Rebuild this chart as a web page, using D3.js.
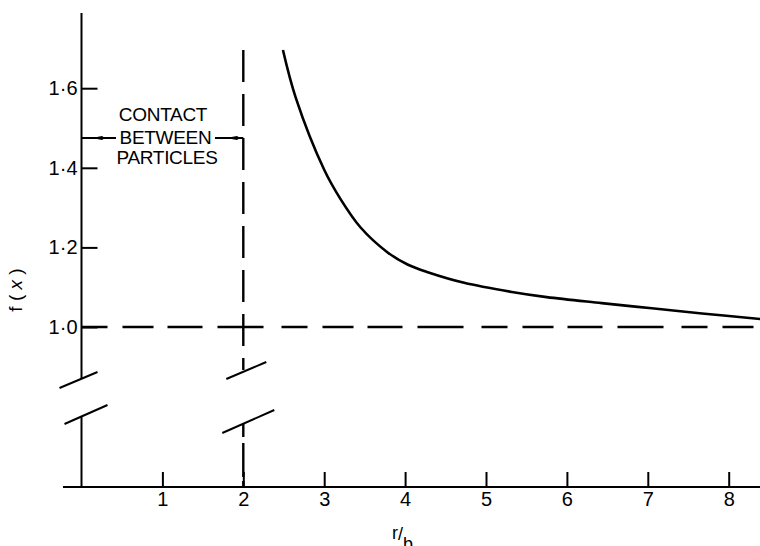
<!DOCTYPE html>
<html>
<head>
<meta charset="utf-8">
<title>f(x) against r/b</title>
<style>
  body { margin: 0; background: #fff; }
  svg { display: block; }
  text { font-family: "Liberation Sans", Arial, sans-serif; fill: #000; }
  .tick text { font-size: 20px; }
  .tick line { stroke: #000; stroke-width: 2px; }
  .axisline { stroke: #000; stroke-width: 2px; fill: none; }
  .curve { fill: none; stroke: #000; stroke-width: 2.6px; }
  .dash { stroke: #000; stroke-width: 2.4px; fill: none; }
  .note { font-size: 19px; text-anchor: middle; letter-spacing: -0.3px; }
</style>
</head>
<body>
<svg width="760" height="546"></svg>
<script src="https://d3js.org/d3.v7.min.js"></script>
<script>
// values
var rb = [2.49, 2.65, 3.00, 3.20, 3.45, 3.78, 4.03, 4.29, 4.73, 5.32, 5.75, 6.43, 7.05, 7.67, 8.39];
var fx = [1.696, 1.575, 1.395, 1.322, 1.250, 1.188, 1.157, 1.137, 1.111, 1.088, 1.075, 1.060, 1.047, 1.034, 1.020];
var xTicks = [1, 2, 3, 4, 5, 6, 7, 8];
var yTicks = [1.0, 1.2, 1.4, 1.6];
var contactAt = 2;       // r/b where particles touch
var noteLines = ["CONTACT", "BETWEEN", "PARTICLES"];

var svg = d3.select("svg"),
    width = +svg.attr("width"),
    height = +svg.attr("height");

var x = d3.scaleLinear().domain([0, 8.5]).range([81.5, 81.5 + 8.5 * 80.9]);
var y = d3.scaleLinear().domain([1, 1.7]).range([327, 327 - 0.7 * 398]);

var baseY = 487;      // x axis sits below the break
var yTop = 13;

// y axis, broken between 1.0 and the base
svg.append("line").attr("class", "axisline")
    .attr("x1", x(0)).attr("x2", x(0)).attr("y1", yTop).attr("y2", 379);
svg.append("line").attr("class", "axisline")
    .attr("x1", x(0)).attr("x2", x(0)).attr("y1", 416).attr("y2", baseY);

var gy = svg.append("g")
    .attr("transform", "translate(" + x(0) + ",0)")
    .call(d3.axisLeft(y).tickValues(yTicks).tickSizeInner(-16).tickSizeOuter(0).tickPadding(4)
      .tickFormat(function(d) { return d3.format(".1f")(d).replace(".", "\u00B7"); }));
gy.select(".domain").remove();

// x axis
svg.append("line").attr("class", "axisline").attr("stroke-width", 2.4)
    .attr("x1", 63).attr("x2", width).attr("y1", baseY).attr("y2", baseY);

var gx = svg.append("g")
    .attr("transform", "translate(0," + baseY + ")")
    .call(d3.axisBottom(x).tickValues(xTicks).tickSizeInner(-15).tickSizeOuter(0).tickPadding(5)
      .tickFormat(d3.format("d")));
gx.select(".domain").remove();

// break marks
function slash(x1, y1, x2, y2) {
  svg.append("line").attr("class", "axisline").attr("stroke-width", 1.8)
      .attr("x1", x1).attr("y1", y1).attr("x2", x2).attr("y2", y2);
}
slash(x(0) - 22, 388, x(0) + 16, 372);
slash(x(0) - 17, 424, x(0) + 26, 405);
slash(x(contactAt) - 17, 379, x(contactAt) + 23, 362);
slash(x(contactAt) - 21, 433, x(contactAt) + 31, 410);

// f = 1 reference
svg.append("line").attr("class", "dash")
    .attr("stroke-dasharray", "26,15,31,14,35,15,46,18")
    .attr("x1", x(0)).attr("x2", width).attr("y1", y(1)).attr("y2", y(1));

// contact line at r/b = 2
svg.append("line").attr("class", "dash")
    .attr("stroke-dasharray", "32,12")
    .attr("x1", x(contactAt)).attr("x2", x(contactAt)).attr("y1", y(1.696)).attr("y2", 370);
svg.append("line").attr("class", "dash")
    .attr("stroke-dasharray", "14,6,34,4,8,0")
    .attr("x1", x(contactAt)).attr("x2", x(contactAt)).attr("y1", 423).attr("y2", baseY);

// curve
var line = d3.line()
    .x(function(d, i) { return x(rb[i]); })
    .y(function(d) { return y(d); })
    .curve(d3.curveCatmullRom.alpha(0.5));

svg.append("path").datum(fx).attr("class", "curve").attr("d", line);

// annotation
var noteY = [121, 144, 164];
var noteX = [163, 165.5, 167];
svg.selectAll(".note").data(noteLines).enter().append("text")
    .attr("class", "note")
    .attr("x", function(d, i) { return noteX[i]; })
    .attr("y", function(d, i) { return noteY[i]; })
    .text(function(d) { return d; });

var arrowY = 138;
svg.append("line").attr("class", "axisline").attr("stroke-width", 1.5)
    .attr("x1", x(0)).attr("x2", 116).attr("y1", arrowY).attr("y2", arrowY);
svg.append("line").attr("class", "axisline").attr("stroke-width", 1.5)
    .attr("x1", 215).attr("x2", x(contactAt)).attr("y1", arrowY).attr("y2", arrowY);
function head(x1, x2) {
  svg.append("path")
      .attr("d", "M" + x1 + "," + arrowY + "L" + (x2 - 3) + "," + (arrowY - 2) +
                 "L" + x2 + "," + arrowY + "L" + (x2 - 3) + "," + (arrowY + 2) + "Z")
      .attr("fill", "#000");
}
head(92, 105);
head(226, 240);

// axis titles
svg.append("text")
    .attr("transform", "translate(22,290) rotate(-90)")
    .attr("text-anchor", "middle")
    .style("font-size", "19px")
    .html('f ( <tspan font-style="italic">x</tspan> )');

var xl = svg.append("text").style("font-size", "18px").attr("x", 392).attr("y", 539);
xl.append("tspan").text("r");
xl.append("tspan").attr("dy", 1).text("/");
xl.append("tspan").attr("dy", 10).text("b");
</script>
</body>
</html>
